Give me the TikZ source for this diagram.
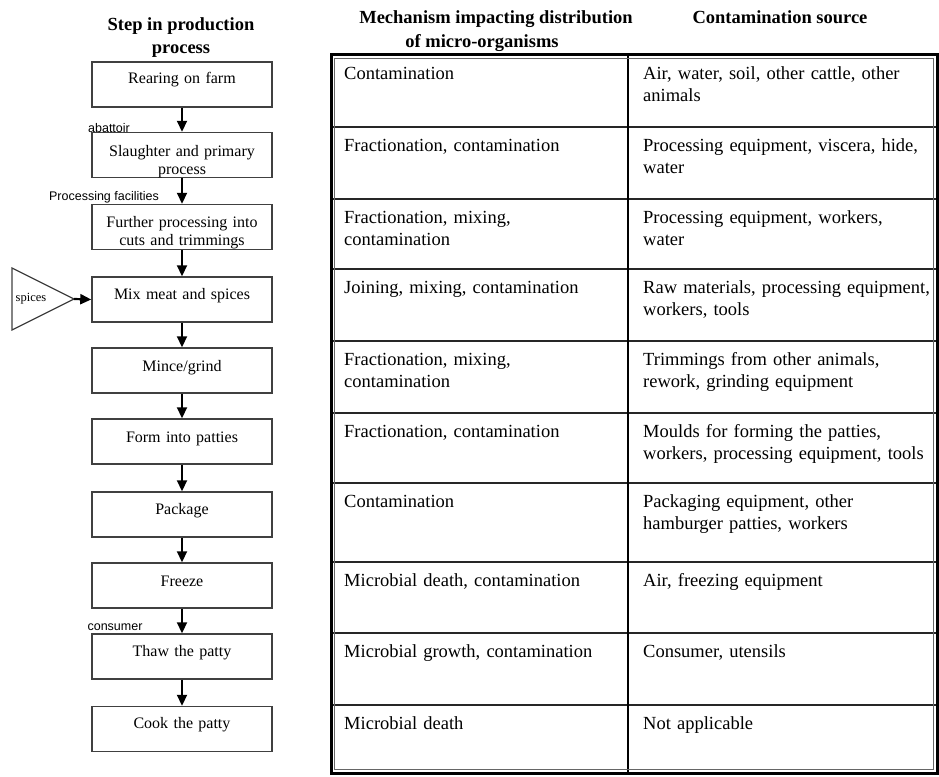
\documentclass[tikz,border=0pt]{standalone}
\usepackage{fontspec}
\setmainfont{Liberation Serif}
\newfontfamily\arialf{Liberation Sans}
\usetikzlibrary{arrows.meta}
\begin{document}
\begin{tikzpicture}[x=1pt,y=-1pt,
  box/.style={draw=black!75,line width=1.5pt,minimum width=180pt,minimum height=45pt,inner sep=0pt},
  btext/.style={font=\fontsize{16}{18.5}\selectfont,inner sep=0pt,text width=178pt,align=center,anchor=base},
  head/.style={font=\bfseries\fontsize{18.5}{22.5}\selectfont,inner sep=0pt,align=center,anchor=base},
  cell/.style={font=\fontsize{18.5}{22}\selectfont,inner sep=0pt,text width=300pt,align=left,anchor=base west},
  lab/.style={font=\arialf\fontsize{12.5}{14}\selectfont,inner sep=0pt,anchor=base},
  flow/.style={line width=2.2pt,-{Triangle[length=11pt,width=10pt]}},
  rule/.style={line width=1.2pt,black!85}]
\useasboundingbox (0,0) rectangle (939,776);
% headers
\node[head] (h1) at (181,31) {Step in production};
\node[head] (h1b) at (181,54) {process};
\node[head] (h2) at (496,24) {Mechanism impacting distribution};
\node[head] (h2b) at (482,48) {of micro-organisms};
\node[head] (h3) at (780,24) {Contamination source};
% flow boxes
\node[box] (b1) at (182,84.5) {};
\node[box] (b2) at (182,155) {};
\node[box] (b3) at (182,227) {};
\node[box] (b4) at (182,299.5) {};
\node[box] (b5) at (182,370.5) {};
\node[box] (b6) at (182,441.5) {};
\node[box] (b7) at (182,514.5) {};
\node[box] (b8) at (182,585.5) {};
\node[box] (b9) at (182,656.5) {};
\node[box] (b10) at (182,729) {};
\node[btext] (t1) at (182,84) {Rearing on farm};
\node[btext] (t2) at (182,156) {Slaughter and primary\\process};
\node[btext] (t3) at (182,227) {Further processing into\\cuts and trimmings};
\node[btext] (t4) at (182,299) {Mix meat and spices};
\node[btext] (t5) at (182,371) {Mince/grind};
\node[btext] (t6) at (182,442) {Form into patties};
\node[btext] (t7) at (182,514) {Package};
\node[btext] (t8) at (182,586) {Freeze};
\node[btext] (t9) at (182,656) {Thaw the patty};
\node[btext] (t10) at (182,728) {Cook the patty};
\foreach \a/\b in {b1/b2,b2/b3,b3/b4,b4/b5,b5/b6,b6/b7,b7/b8,b8/b9,b9/b10}
  \draw[flow] (\a.south) -- (\b.north);
% labels
\node[lab] (l1) at (109,132) {abattoir};
\node[lab] (l2) at (104,200) {Processing facilities};
\node[lab] (l3) at (115,630) {consumer};
% spices triangle
\coordinate (sa) at (12,268);
\coordinate (sb) at (12,330);
\coordinate (sc) at (74,299);
\draw[black!75,line width=1.2pt] (sa) -- (sc) -- (sb) -- cycle;
\node[font=\fontsize{12.5}{14}\selectfont,inner sep=0pt] (sp) at (31,299) {spices};
\draw[flow] (sc) -- (b4.west);
% table
\coordinate (tl) at (331,55);
\coordinate (br) at (937,773);
\foreach \y in {127,199,269,341,413,483,562,633,705}
  \draw[rule] (331,\y) -- (937,\y);
\draw[line width=1.5pt] (628,55) -- (628,773);
\draw[line width=3pt] (tl) rectangle (br);
\draw[line width=0.8pt,black!60] (334.5,58.5) rectangle (933.5,769.5);
% cells
\node[cell] (c1a) at (344,79) {Contamination};
\node[cell] (c1b) at (643,79) {Air, water, soil, other cattle, other\\animals};
\node[cell] (c2a) at (344,151) {Fractionation, contamination};
\node[cell] (c2b) at (643,151) {Processing equipment, viscera, hide,\\water};
\node[cell] (c3a) at (344,223) {Fractionation, mixing,\\contamination};
\node[cell] (c3b) at (643,223) {Processing equipment, workers,\\water};
\node[cell] (c4a) at (344,293) {Joining, mixing, contamination};
\node[cell] (c4b) at (643,293) {Raw materials, processing equipment,\\workers, tools};
\node[cell] (c5a) at (344,365) {Fractionation, mixing,\\contamination};
\node[cell] (c5b) at (643,365) {Trimmings from other animals,\\rework, grinding equipment};
\node[cell] (c6a) at (344,437) {Fractionation, contamination};
\node[cell] (c6b) at (643,437) {Moulds for forming the patties,\\workers, processing equipment, tools};
\node[cell] (c7a) at (344,507) {Contamination};
\node[cell] (c7b) at (643,507) {Packaging equipment, other\\hamburger patties, workers};
\node[cell] (c8a) at (344,586) {Microbial death, contamination};
\node[cell] (c8b) at (643,586) {Air, freezing equipment};
\node[cell] (c9a) at (344,657) {Microbial growth, contamination};
\node[cell] (c9b) at (643,657) {Consumer, utensils};
\node[cell] (c10a) at (344,729) {Microbial death};
\node[cell] (c10b) at (643,729) {Not applicable};
\end{tikzpicture}
\end{document}
